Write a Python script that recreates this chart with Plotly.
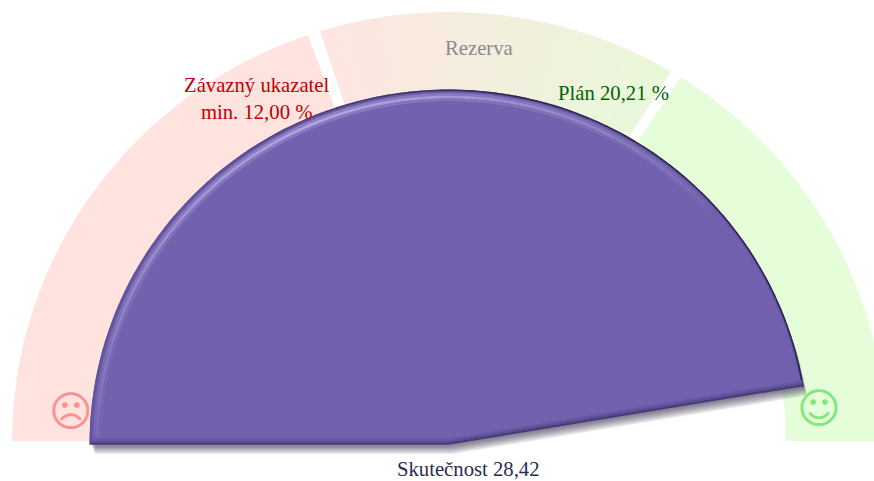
import math
import plotly.graph_objects as go

SCALE_MAX = 30
BAND_LIMITS = [0, 12.0, 20.21, 30]
ACTUAL = 28.42
ZONE_COLOURS = ["#fee3df", "#e6fdd9"]
RESERVE_FROM, RESERVE_TO = (253, 230, 225), (233, 247, 218)
LABELS = ["Závazný ukazatel<br>min. 12,00 %", "Rezerva", "Plán 20,21 %", "Skutečnost 28,42"]
FONT = "Liberation Serif"

W, H = 874, 481
OUTER_X, OUTER_Y, INNER = 437, 429, 337
BODY_X, BODY_Y, BODY_CY = 359.5, 355, -3.5

def ang(v):
    return math.pi * (1 - v / SCALE_MAX)

def fill(xs, ys, colour):
    fig.add_trace(go.Scatter(x=xs + xs[:1], y=ys + ys[:1], mode="lines", fill="toself", fillcolor=colour,
                             line=dict(width=0), hoverinfo="skip", showlegend=False))

def band(v0, v1, colour, steps=60):
    ts = [ang(v0 + (v1 - v0) * i / steps) for i in range(steps + 1)]
    fill([OUTER_X * math.cos(t) for t in ts] + [INNER * math.cos(t) for t in reversed(ts)],
         [OUTER_Y * math.sin(t) for t in ts] + [INNER * math.sin(t) for t in reversed(ts)], colour)

def sector(v1, inset, colour, dx=0, dy=0, steps=120):
    ts = [ang(v1 * i / steps) for i in range(steps + 1)]
    fill([(BODY_X - inset) * math.cos(t) + dx for t in ts] + [dx],
         [(BODY_Y - inset) * math.sin(t) + BODY_CY + dy for t in ts] + [BODY_CY + dy], colour)

def arc(v0, v1, in0, in1, colour, steps=2):
    ts = [ang(v0 + (v1 - v0) * i / steps) for i in range(steps + 1)]
    fill([(BODY_X - in0) * math.cos(t) for t in ts] + [(BODY_X - in1) * math.cos(t) for t in reversed(ts)],
         [(BODY_Y - in0) * math.sin(t) + BODY_CY for t in ts] + [(BODY_Y - in1) * math.sin(t) + BODY_CY for t in reversed(ts)], colour)

def base_strip(h0, h1, colour):
    """Bevel strip running along the two straight edges of the value sector."""
    t0, t1 = ang(0), ang(ACTUAL)
    r = BODY_X - 1
    px = [r * math.cos(t0), 0, r * math.cos(t1)]
    py = [(BODY_Y - 1) * math.sin(t0) + BODY_CY, BODY_CY, (BODY_Y - 1) * math.sin(t1) + BODY_CY]
    fill(px + px[::-1], [y + h0 for y in py] + [y + h1 for y in py[::-1]], colour)

fig = go.Figure()
GAP = 0.14
band(BAND_LIMITS[0], BAND_LIMITS[1] - GAP, ZONE_COLOURS[0])
a, b = BAND_LIMITS[1] + GAP, BAND_LIMITS[2] - GAP
N = 24
for i in range(N):
    f = i / (N - 1)
    c = [round(p + (q - p) * f) for p, q in zip(RESERVE_FROM, RESERVE_TO)]
    band(a + (b - a) * i / N, a + (b - a) * (i + 1) / N + 0.02, "rgb(%d,%d,%d)" % tuple(c), steps=6)
band(BAND_LIMITS[2] + GAP, BAND_LIMITS[3], ZONE_COLOURS[1])

# soft drop shadow
for k in range(8):
    sector(ACTUAL, 1, "rgba(45,40,65,0.10)", dx=1 + k * 0.5, dy=-(1 + k * 1.2))

# body with bevel
sector(ACTUAL, 0, "#6a5aa6")
BODY = (114, 97, 174)
HIGH = (176, 166, 224)
DARK = (46, 38, 80)
SOFT = (96, 82, 155)
M = 100
for i in range(M):
    v0 = ACTUAL * i / M
    v1 = ACTUAL * (i + 1) / M + 0.02
    deg = math.degrees(ang((v0 + v1) / 2))
    light = max(0.0, 1 - abs(deg - 112) / 70) ** 0.7
    dk = min(1.0, max(0.0, (135 - deg) / 55))
    c = [round(p + (q - p) * dk) for p, q in zip(SOFT, DARK)]
    arc(v0, v1, 0, 1.6, "rgb(%d,%d,%d)" % tuple(c))
    for in0, in1, w in ((3.5, 6, 0.45), (6, 9, 1.0), (9, 12, 0.35)):
        c = [round(p + (q - p) * light * w) for p, q in zip(BODY, HIGH)]
        arc(v0, v1, in0, in1, "rgb(%d,%d,%d)" % tuple(c))
sector(ACTUAL, 12, "#7261ae")
base_strip(0, 2, "#463a72")
base_strip(2, 4, "#594c8f")
base_strip(4, 6, "#6858a3")

fig.update_layout(
    width=W, height=H, margin=dict(l=0, r=0, t=0, b=0), paper_bgcolor="white", plot_bgcolor="white",
    xaxis=dict(range=[-449, 425], visible=False, fixedrange=True),
    yaxis=dict(range=[-40, 441], visible=False, fixedrange=True),
    annotations=[
        dict(text=LABELS[0], x=257 / W, y=1 - 98 / H, font=dict(color="#c00000", size=20.7)),
        dict(text=LABELS[1], x=479 / W, y=1 - 48 / H, font=dict(color="#8a8a8a", size=20.7)),
        dict(text=LABELS[2], x=613 / W, y=1 - 93 / H, font=dict(color="#006400", size=20.7)),
        dict(text=LABELS[3], x=468 / W, y=1 - 469 / H, font=dict(color="#2b2b55", size=20.7)),
        dict(text="☹", x=71 / W, y=1 - 411 / H, font=dict(color="#ff9090", size=42, family="DejaVu Sans")),
        dict(text="☺", x=819 / W, y=1 - 408 / H, font=dict(color="#7fe87f", size=42, family="DejaVu Sans")),
    ],
    font=dict(family=FONT),
)
for an in fig.layout.annotations:
    an.update(xref="paper", yref="paper", showarrow=False, xanchor="center", yanchor="middle", align="center")
fig.write_html("out.html", config={"displayModeBar": False},
               post_script="document.body.style.margin='0';document.body.style.overflow='hidden';")
